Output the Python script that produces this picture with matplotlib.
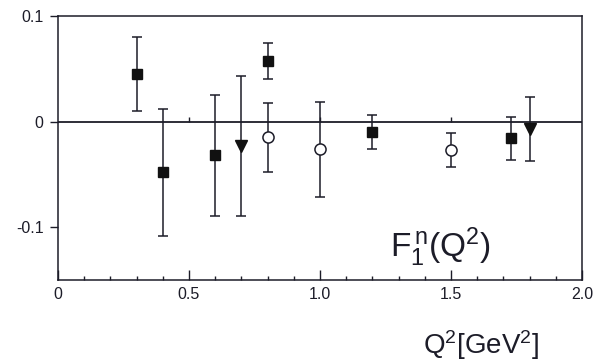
"""
Neutron F1 vs Q^2 with error bars
Generates: out.png
"""
import matplotlib
matplotlib.use("Agg")
import matplotlib.pyplot as plt
from matplotlib.ticker import MultipleLocator

# filled squares
SQ_X = [0.30, 0.40, 0.60, 0.80, 1.20, 1.73]
SQ_Y = [0.045, -0.048, -0.032, 0.057, -0.010, -0.016]
SQ_ERR = [0.035, 0.060, 0.057, 0.017, 0.016, 0.020]

# filled down-triangles
TRI_X = [0.70, 1.80]
TRI_Y = [-0.023, -0.007]
TRI_ERR = [0.066, 0.030]

# open circles
CIR_X = [0.80, 1.00, 1.50]
CIR_Y = [-0.015, -0.026, -0.027]
CIR_ERR = [0.033, 0.045, 0.016]

X_TICKS = [0, 0.5, 1.0, 1.5, 2.0]
X_LABELS = ["0", "0.5", "1.0", "1.5", "2.0"]
Y_TICKS = [-0.1, 0, 0.1]
Y_LABELS = ["-0.1", "0", "0.1"]
ZERO_LINE_TICKS = [0.5, 1.0, 1.5]

INK = "#1c1c28"

plt.rcParams["font.family"] = ["Liberation Sans", "DejaVu Sans"]
plt.rcParams["mathtext.default"] = "regular"

fig = plt.figure(figsize=(5.94, 3.63), dpi=100)
ax = fig.add_axes([0.0976, 0.2287, 0.8822, 0.7273])

err_kw = dict(ls="none", ecolor=INK, elinewidth=1.1, capsize=3.5, capthick=1.1)
ax.errorbar(SQ_X, SQ_Y, yerr=SQ_ERR, marker="s", ms=7.5, mfc="#111111", mec="#111111", **err_kw)
ax.errorbar(TRI_X, TRI_Y, yerr=TRI_ERR, marker="v", ms=8.5, mfc="#111111", mec="#111111", **err_kw)
ax.errorbar(CIR_X, CIR_Y, yerr=CIR_ERR, marker="o", ms=8, mfc="white", mec=INK, mew=1.1, **err_kw)

ax.axhline(0, color=INK, lw=1.3, zorder=1)
ax.vlines(ZERO_LINE_TICKS, 0, 0.004, color=INK, lw=1.0, zorder=1)

ax.set_xlim(0, 2.0)
ax.set_ylim(-0.15, 0.1)
ax.set_xticks(X_TICKS)
ax.set_xticklabels(X_LABELS)
ax.xaxis.set_minor_locator(MultipleLocator(0.1))
ax.set_yticks(Y_TICKS)
ax.set_yticklabels(Y_LABELS)

ax.tick_params(axis="x", which="major", direction="in", length=7, width=1.0, labelsize=11.5, pad=5, colors=INK)
ax.tick_params(axis="x", which="minor", direction="in", length=3, width=1.0, colors=INK)
ax.tick_params(axis="y", which="major", direction="out", length=5.5, width=1.0, labelsize=11.5, pad=5, colors=INK)
for spine in ax.spines.values():
    spine.set_color(INK)
    spine.set_linewidth(1.1)

ax.text(1.46, -0.128, r"$F_1^{\,n}(Q^2)$", fontsize=24, ha="center", va="baseline", color=INK)
fig.text(481 / 594, 9 / 363, r"$Q^2[GeV^2]$", fontsize=20, ha="center", va="baseline", color=INK)

fig.savefig("out.png", dpi=100, facecolor="white")
plt.close(fig)
